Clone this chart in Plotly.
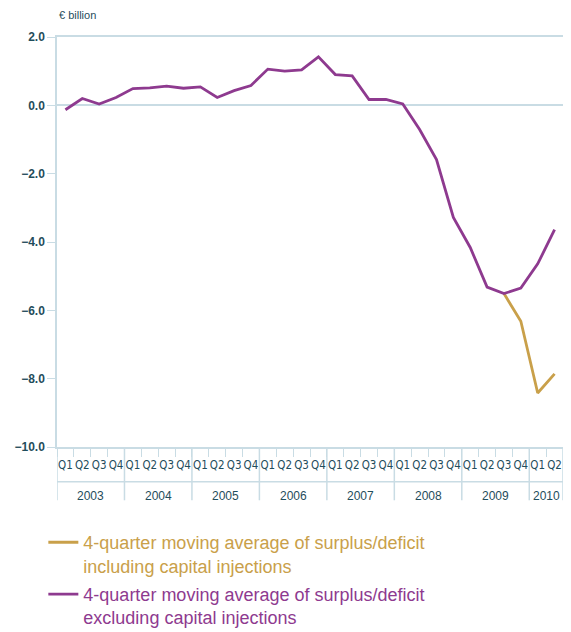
import plotly.graph_objects as go

# quarterly categories, 2003 Q1 to 2010 Q2
years = ["2003"] * 4 + ["2004"] * 4 + ["2005"] * 4 + ["2006"] * 4 + \
        ["2007"] * 4 + ["2008"] * 4 + ["2009"] * 4 + ["2010"] * 2
quarters = ["Q1", "Q2", "Q3", "Q4"] * 7 + ["Q1", "Q2"]

# 4-quarter moving average, EUR billion
excl_injections = [-0.13, 0.20, 0.04, 0.23,
                   0.49, 0.51, 0.56, 0.50,
                   0.54, 0.23, 0.43, 0.58,
                   1.06, 1.00, 1.04, 1.42,
                   0.90, 0.86, 0.17, 0.17,
                   0.04, -0.71, -1.59, -3.28,
                   -4.16, -5.32, -5.51, -5.35,
                   -4.64, -3.64]
incl_injections = [None] * 26 + [-5.51, -6.32, -8.42, -7.86]

GOLD = "#c9a04a"
PURPLE = "#8e3a8f"
TEXT = "#1f4d5c"
LINE = "#c9dce4"
FONT = "Liberation Sans"
NARROW = "Liberation Sans Narrow, DejaVu Sans Condensed, Liberation Sans"

periods = [q + " " + y for q, y in zip(quarters, years)]

fig = go.Figure()
fig.add_trace(go.Scatter(
    x=periods, y=incl_injections, mode="lines",
    line=dict(color=GOLD, width=2.8), legendgroup="a",
    name="<span style='color:%s'>4-quarter moving average of surplus/deficit"
         "<br>including capital injections</span>" % GOLD))
fig.add_trace(go.Scatter(
    x=periods, y=excl_injections, mode="lines",
    line=dict(color=PURPLE, width=2.8), legendgroup="b",
    name="<span style='color:%s'>4-quarter moving average of surplus/deficit"
         "<br>excluding capital injections</span>" % PURPLE))

# the page body adds an 8px margin, so the figure is 8px smaller each way
fig.update_layout(
    width=563, height=624,
    margin=dict(l=44, r=6, t=29, b=185),
    paper_bgcolor="white", plot_bgcolor="white",
    font=dict(family=FONT, color=TEXT, size=12),
    showlegend=True,
    legend=dict(x=-0.027, y=0.173, yref="container",
                xanchor="left", yanchor="top",
                font=dict(size=18), valign="top", tracegroupgap=2,
                bgcolor="rgba(0,0,0,0)"),
    xaxis=dict(type="category", showline=True, linecolor=LINE,
               linewidth=1.5, mirror=True, ticks="outside", ticklen=8,
               tickson="boundaries", tickcolor=LINE, showgrid=False,
               tickangle=0, tickvals=periods, ticktext=quarters,
               ticklabelstandoff=6, range=[-0.5, len(periods) - 0.5],
               tickfont=dict(family=NARROW, size=11.5, color=TEXT)),
    yaxis=dict(range=[-10, 2], dtick=2, tickformat=".1f",
               showline=True, linecolor=LINE, linewidth=1.5, mirror=True,
               ticks="outside", ticklen=8, tickcolor=LINE,
               showgrid=False, zeroline=True, zerolinecolor=LINE,
               zerolinewidth=1.5,
               tickfont=dict(size=12, color=TEXT, weight="bold")),
)

# year row: separator line, dividers at year boundaries and year labels
fig.add_shape(type="line", xref="paper", yref="paper", x0=0, x1=1,
              y0=-0.085, y1=-0.085, line=dict(color=LINE, width=1.5))
year_names = sorted(set(years))
edges = [-0.5]
for yr in year_names:
    idx = [i for i, y in enumerate(years) if y == yr]
    edges.append(idx[-1] + 0.5)
    fig.add_annotation(text=yr, x=(idx[0] + idx[-1]) / 2, xref="x",
                       yref="paper", y=-0.1195, yanchor="middle",
                       showarrow=False, font=dict(size=12, color=TEXT))
for e in edges:
    fig.add_shape(type="line", xref="x", yref="paper", x0=e, x1=e,
                  y0=-0.13, y1=0, line=dict(color=LINE, width=1.5))

fig.add_annotation(text="€ billion", xref="paper", yref="paper", x=0,
                   y=1.054, xanchor="left", yanchor="middle",
                   showarrow=False, font=dict(size=11, color=TEXT))

fig.write_html("out.html")
